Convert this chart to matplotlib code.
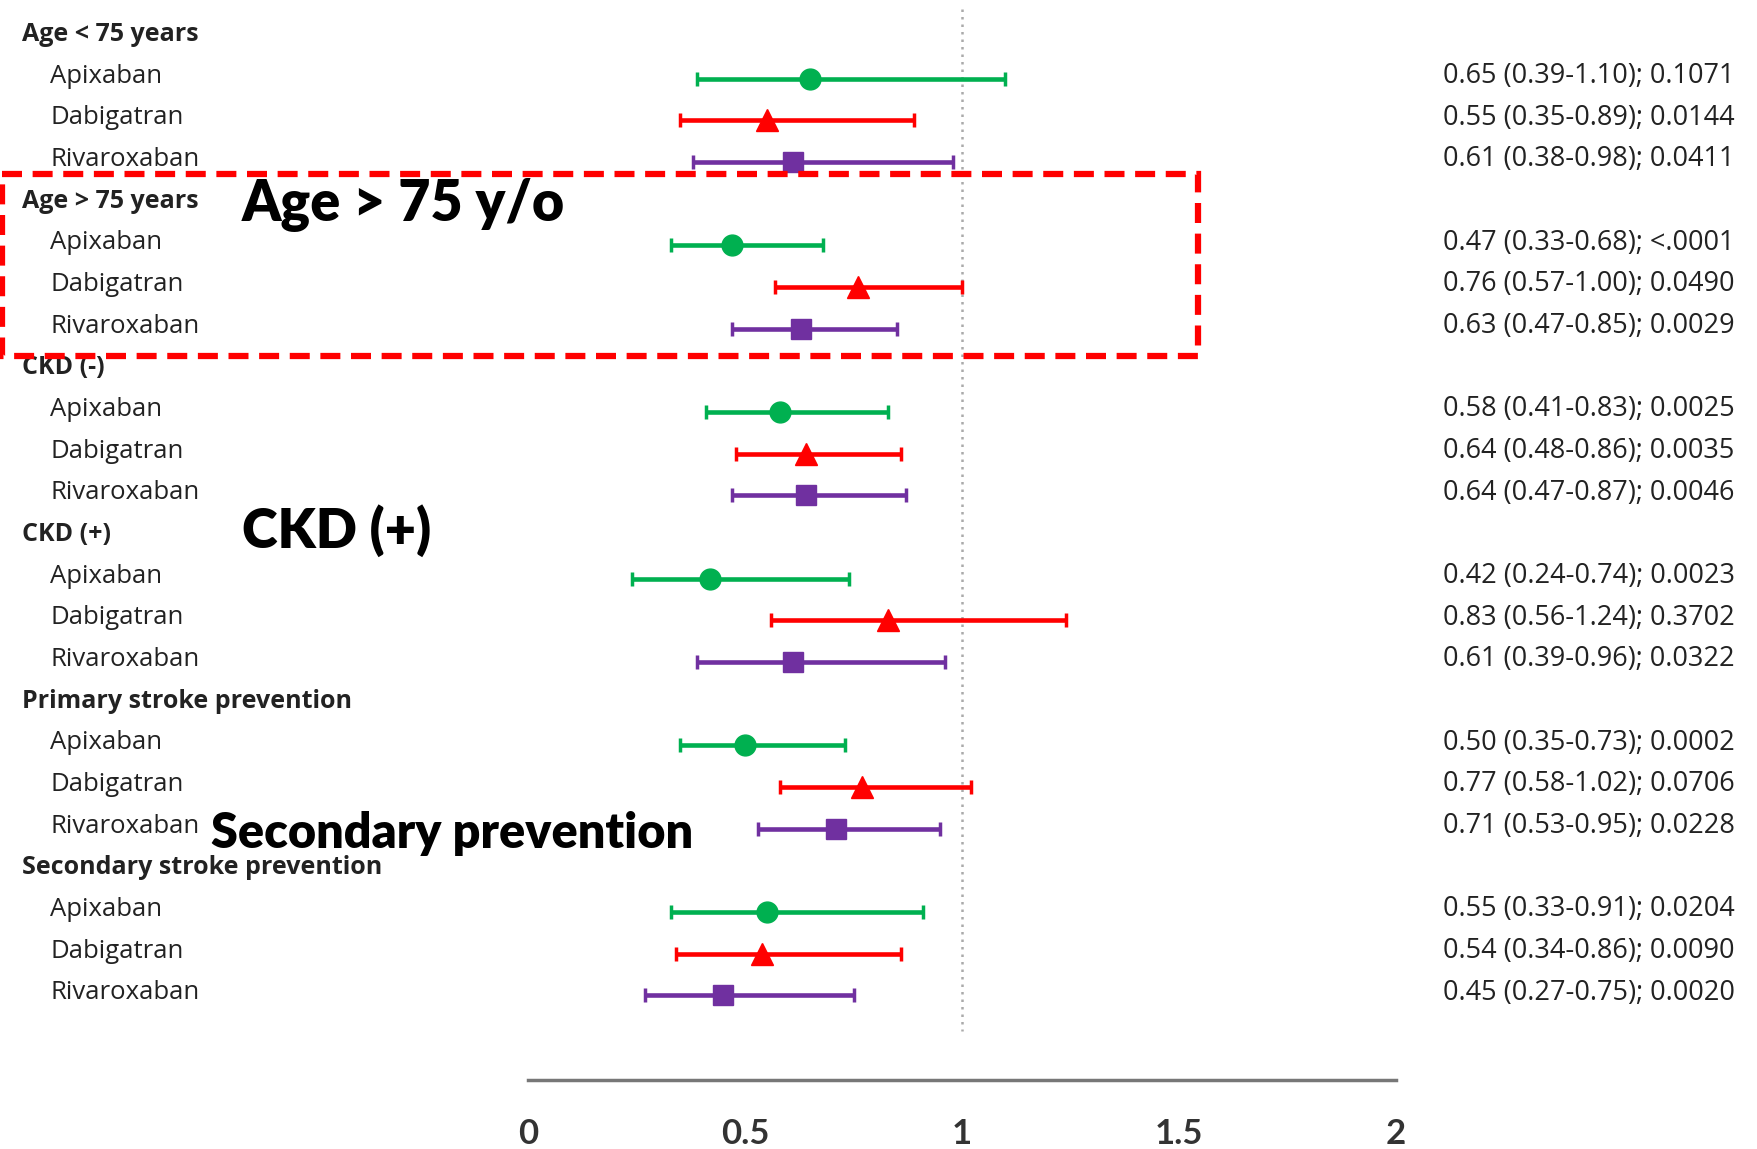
import matplotlib.pyplot as plt
from matplotlib.patches import Rectangle

# groups and drugs
groups = ['Age < 75 years', 'Age > 75 years', 'CKD (-)', 'CKD (+)',
          'Primary stroke prevention', 'Secondary stroke prevention']
drugs = ['Apixaban', 'Dabigatran', 'Rivaroxaban']

# hazard ratio, lower CI, upper CI, p value (per group, drug order as above)
hr = [[0.65, 0.55, 0.61], [0.47, 0.76, 0.63], [0.58, 0.64, 0.64],
      [0.42, 0.83, 0.61], [0.50, 0.77, 0.71], [0.55, 0.54, 0.45]]
lo = [[0.39, 0.35, 0.38], [0.33, 0.57, 0.47], [0.41, 0.48, 0.47],
      [0.24, 0.56, 0.39], [0.35, 0.58, 0.53], [0.33, 0.34, 0.27]]
hi = [[1.10, 0.89, 0.98], [0.68, 1.00, 0.85], [0.83, 0.86, 0.87],
      [0.74, 1.24, 0.96], [0.73, 1.02, 0.95], [0.91, 0.86, 0.75]]
pval = [['0.1071', '0.0144', '0.0411'], ['<.0001', '0.0490', '0.0029'],
        ['0.0025', '0.0035', '0.0046'], ['0.0023', '0.3702', '0.0322'],
        ['0.0002', '0.0706', '0.0228'], ['0.0204', '0.0090', '0.0020']]

xticks = [0, 0.5, 1, 1.5, 2]
xtick_labels = ['0', '0.5', '1', '1.5', '2']

colors = ['#00B050', '#FF0000', '#7030A0']
markers = ['o', '^', 's']

narrow = ['Lato', 'DejaVu Sans']
plt.rcParams['font.family'] = ['Open Sans', 'DejaVu Sans']

fig = plt.figure(figsize=(17.58, 11.49), dpi=100)
ax = fig.add_axes([0, 0, 1, 1])
ax.set_xlim(-1.2166, 2.834)
ax.set_ylim(26.83, -0.744)
ax.axis('off')

row = 0
for g in range(len(groups)):
    ax.text(-1.166, row + 0.08, groups[g], fontsize=18, fontweight='bold',
            color='#222222', va='center', ha='left')
    row += 1
    for d in range(len(drugs)):
        ax.text(-1.101, row + 0.08, drugs[d], fontsize=18.5, color='#222222',
                va='center', ha='left')
        y = row + 0.14
        ax.errorbar(hr[g][d], y,
                    xerr=[[hr[g][d] - lo[g][d]], [hi[g][d] - hr[g][d]]],
                    fmt=markers[d], color=colors[d], ecolor=colors[d],
                    elinewidth=3.3, capsize=5, capthick=2.5,
                    markersize=15 if d != 1 else 15.5, zorder=3)
        txt = '%.2f (%.2f-%.2f); %s' % (hr[g][d], lo[g][d], hi[g][d], pval[g][d])
        ax.text(2.108, row + 0.08, txt, fontsize=19.5, color='#222222',
                va='center', ha='left')
        row += 1

# reference line at HR = 1
ax.plot([1, 1], [-0.53, 24.0], color='#aaaaaa', lw=1.8, ls=(0, (1, 2)), zorder=1)

# x axis
ax.plot([0, 2], [25.17, 25.17], color='#777777', lw=2.5)
for t, lab in zip(xticks, xtick_labels):
    ax.text(t, 26.48, lab, fontsize=25, fontweight='bold', family=narrow,
            color='#333333', ha='center', va='center')

# annotations
ax.add_patch(Rectangle((-1.212, 3.43), 2.756, 4.37, fill=False,
                       edgecolor='#FF0000', lw=4.5, ls=(0, (3.2, 1.7)), zorder=4))
ax.text(-0.66, 4.17, 'Age > 75 y/o', fontsize=40, fontweight='heavy',
        family=narrow, color='black', ha='left', va='center')
ax.text(-0.66, 12.0, 'CKD (+)', fontsize=39, fontweight='heavy',
        family=narrow, color='black', ha='left', va='center')
ax.text(-0.73, 19.25, 'Secondary prevention', fontsize=35, fontweight='heavy',
        family=narrow, color='black', ha='left', va='center')

fig.savefig('out.png', dpi=100)
